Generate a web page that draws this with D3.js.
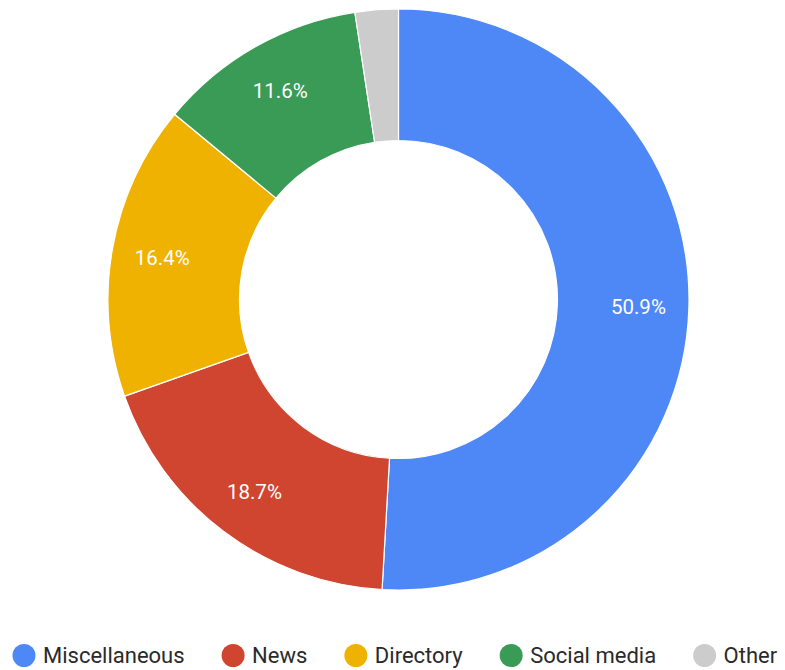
<!DOCTYPE html>
<html lang="en">
<head>
    <meta charset="UTF-8">
    <title>Traffic sources</title>
    <script src="https://d3js.org/d3.v7.min.js"></script>
    <style>
        body { margin: 0; background: #fff; }
        svg { display: block; font-family: Roboto, "Noto Sans", sans-serif; }
    </style>
</head>
<body>
<div id="chart"></div>
<script>
    // data
    const categories = ["Miscellaneous", "News", "Directory", "Social media", "Other"];
    const shares = [50.9, 18.7, 16.4, 11.6, 2.4];
    const colors = ["#4e88f6", "#d0452f", "#efb200", "#399b56", "#cccccc"];
    const labelShown = [true, true, true, true, false];

    const width = 785, height = 670;
    const cx = 398.5, cy = 299.5;
    const outerR = 290.5, innerR = 159, labelR = 240;

    const svg = d3.select("#chart").append("svg")
        .attr("width", width)
        .attr("height", height);

    const pie = d3.pie().sort(null).value(d => d.value);
    const arcs = pie(categories.map((c, i) => ({ name: c, value: shares[i], i: i })));

    const arc = d3.arc().innerRadius(innerR).outerRadius(outerR);
    const labelArc = d3.arc().innerRadius(labelR).outerRadius(labelR);

    const g = svg.append("g").attr("transform", `translate(${cx},${cy})`);

    g.selectAll("path")
        .data(arcs)
        .enter().append("path")
        .attr("d", arc)
        .attr("fill", d => colors[d.data.i])
        .attr("stroke", "#fff")
        .attr("stroke-width", 1.2);

    g.selectAll("text")
        .data(arcs.filter(d => labelShown[d.data.i]))
        .enter().append("text")
        .attr("transform", d => `translate(${labelArc.centroid(d)})`)
        .attr("text-anchor", "middle")
        .attr("dy", "0.36em")
        .attr("font-size", 20.5)
        .attr("fill", "#fff")
        .text(d => d.data.value.toFixed(1) + "%");

    // legend along the bottom
    const legend = svg.append("g").attr("transform", "translate(0,655.5)");
    let x = 24;
    categories.forEach((c, i) => {
        const item = legend.append("g").attr("transform", `translate(${x},0)`);
        item.append("circle").attr("r", 11.5).attr("fill", colors[i]);
        const t = item.append("text")
            .attr("x", 19)
            .attr("dy", "0.36em")
            .attr("font-size", 22)
            .attr("fill", "#2a2a2a")
            .text(c);
        x += 19 + t.node().getComputedTextLength() + 37 + 11.5;
    });
</script>
</body>
</html>
